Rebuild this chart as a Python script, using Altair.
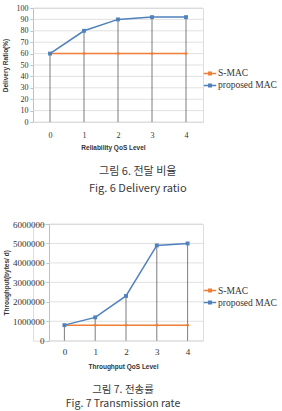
import altair as alt
import pandas as pd

levels = [0, 1, 2, 3, 4]
series_names = ["S-MAC", "proposed MAC"]
delivery_smac = [60, 60, 60, 60, 60]
delivery_proposed = [60, 80, 90, 92, 92]
throughput_smac = [800000, 800000, 800000, 800000, 800000]
throughput_proposed = [800000, 1200000, 2300000, 4900000, 5000000]
delivery_ticks = [0, 10, 20, 30, 40, 50, 60, 70, 80, 90, 100]
throughput_ticks = [0, 1000000, 2000000, 3000000, 4000000, 5000000, 6000000]
caption6 = ["그림 6. 전달 비율", "Fig. 6 Delivery ratio"]
caption7 = ["그림 7. 전송률", "Fig. 7 Transmission rate"]

colors = ["#F07E36", "#4F81BD"]
LEG_PATH = "M-1,0L1,0M-0.2,-0.2L0.2,-0.2L0.2,0.2L-0.2,0.2Z"


def long(smac, prop):
    rows = []
    for l, a, b in zip(levels, smac, prop):
        rows.append({"level": l, "series": "S-MAC", "value": a})
        rows.append({"level": l, "series": "proposed MAC", "value": b})
    return pd.DataFrame(rows)


def panel(df, ticks, ydomain, ytitle, xtitle, caption, width, height,
          plot_left, ytitle_pad, ylabel_size, xlabel_pad, xtitle_pad, xtitle_x,
          legy, frame, lh, cap_offset, cap_size, cap_dx):
    inner = width - plot_left
    step = inner / len(levels)
    xenc = alt.X(
        "level:O",
        scale=alt.Scale(type="point", padding=0,
                        range=[plot_left + step / 2, width - step / 2]),
        axis=alt.Axis(
            title=xtitle, labelAngle=0, ticks=False, domain=False,
            labelFont="Liberation Serif", labelFontSize=ylabel_size,
            labelColor="#333333", labelPadding=xlabel_pad,
            titleFont="Liberation Sans", titleFontWeight="bold",
            titleFontSize=6.5, titleColor="#333333", titlePadding=xtitle_pad,
            titleX=xtitle_x,
        ),
    )
    yenc = alt.Y(
        "value:Q",
        scale=alt.Scale(domain=ydomain, nice=False, zero=True),
        axis=alt.Axis(
            title=ytitle, values=ticks, format="d", grid=False,
            domainColor="#BFBFBF", offset=-plot_left,
            tickColor="#BFBFBF", tickSize=3, labelPadding=2,
            labelFont="Liberation Serif", labelFontSize=ylabel_size,
            labelColor="#333333", titleFont="Liberation Sans",
            titleFontWeight="bold", titleFontSize=6.5, titleColor="#333333",
            titlePadding=ytitle_pad,
        ),
    )
    cscale = alt.Scale(domain=series_names, range=colors)
    grid = alt.Chart(pd.DataFrame({"value": ticks})).mark_rule(
        color="#D9D9D9", strokeWidth=0.8
    ).encode(y=yenc, x=alt.value(plot_left), x2=alt.value(width))
    base = alt.Chart(df)
    drop = base.transform_filter(alt.datum.series == "proposed MAC").mark_rule(
        color="#5A5A5A", strokeWidth=0.8
    ).encode(x=xenc, y=yenc, y2=alt.datum(0))
    line = base.mark_line(strokeWidth=1.5).encode(
        x=xenc, y=yenc,
        color=alt.Color(
            "series:N", scale=cscale,
            legend=alt.Legend(
                title=None, orient="none", legendX=width, legendY=legy,
                symbolType=LEG_PATH, symbolSize=156, symbolStrokeWidth=1.5,
                labelFont="Liberation Serif", labelFontSize=9.5,
                labelColor="#333333", labelOffset=1, rowPadding=0, padding=0,
            ),
        ),
    )
    pts_smac = base.transform_filter(alt.datum.series == "S-MAC").mark_point(
        filled=True, opacity=1, shape="circle", size=8, color=colors[0]
    ).encode(x=xenc, y=yenc)
    pts_prop = base.transform_filter(alt.datum.series == "proposed MAC").mark_point(
        filled=True, opacity=1, shape="square", size=15, color=colors[1]
    ).encode(x=xenc, y=yenc)
    return alt.layer(grid, drop, line, pts_smac, pts_prop).properties(
        width=width, height=height,
        title=alt.TitleParams(
            text=caption, orient="bottom", anchor="middle", frame=frame,
            font="Noto Sans CJK KR", fontSize=cap_size, fontWeight="normal",
            color="#3A3A3A", lineHeight=lh, offset=cap_offset, dx=cap_dx,
        ),
    )


top = panel(long(delivery_smac, delivery_proposed), delivery_ticks, [0, 100],
            "Delivery Ratio(%)", "Reliability QoS Level", caption6, 170, 114,
            0, 7.5, 8, 9, 5, 80, 58.4, "bounds", 17, 15, 11, -2)
bottom = panel(long(throughput_smac, throughput_proposed), throughput_ticks, [0, 6000000],
               "Throughput(bytes/ d)", "Throughput QoS Level", caption7, 170, 116.7,
               16, 3, 9, 7, 6.5, 90, 59.5, "group", 14, 15, 10.5, 5)

chart = alt.vconcat(top, bottom, spacing=25).properties(
    padding={"left": 2, "top": 3, "right": 2, "bottom": 0},
).resolve_scale(color="independent", x="independent", y="independent").resolve_legend(
    color="independent"
).configure_view(stroke=None).configure(background="white")

chart.save("out.html", embed_options={"renderer": "svg", "actions": False})
